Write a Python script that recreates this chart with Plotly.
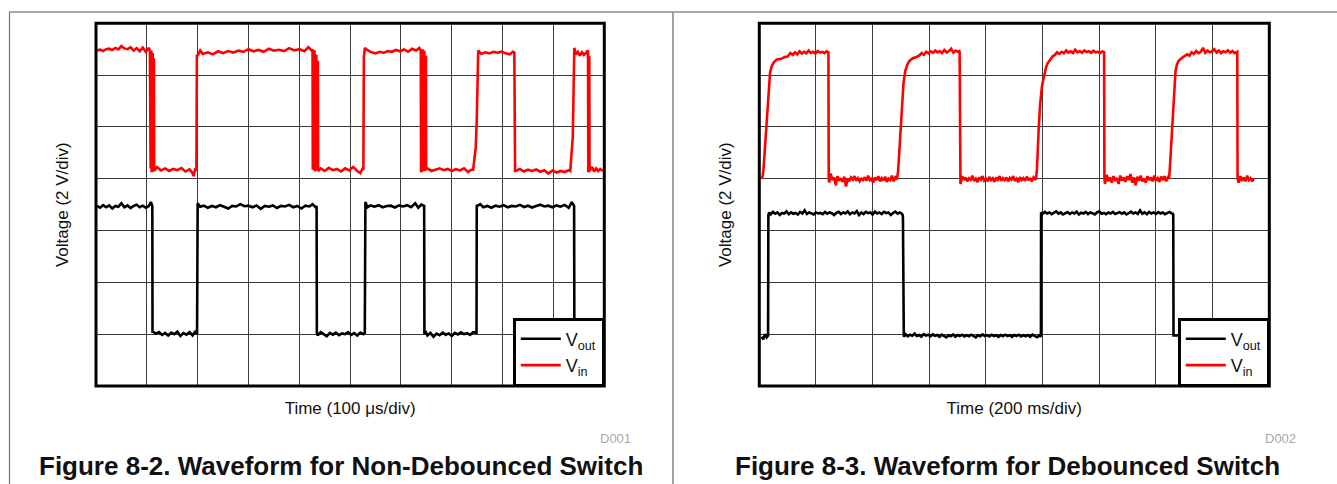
import plotly.graph_objects as go

# ---------------- Figure 8-2 (non-debounced), time in us, voltage in V (2 V/div) -------------
t_in_a = [2, 8, 14, 20, 26, 32, 38, 44, 50, 56, 62, 68, 74, 80, 86, 92, 98, 104,
          106, 106.5, 107.5, 108, 109, 109.5, 110.5, 111, 111.5, 112, 113, 113.5, 114, 114.5, 116,
          120, 128, 136, 144, 152, 160, 168, 176, 184, 190, 192, 195, 197.5, 198.5,
          200, 205, 210, 220, 230, 240, 250, 260, 270, 280, 290, 300, 310, 320, 330, 340, 350, 360,
          370, 380, 390, 400, 410, 418, 424,
          426, 426.5, 428, 428.5, 430, 430.5, 432, 432.5, 433.5, 434, 435.5, 436, 436.5, 437, 439,
          442, 450, 458, 466, 474, 482, 490, 498, 506, 514, 520, 524, 526, 527,
          529, 535, 542, 550, 558, 566, 574, 582, 590, 598, 606, 614, 622, 630, 636,
          639, 639.5, 641, 641.5, 642.5, 643, 644.5, 645, 646, 646.5, 648, 648.5, 649, 649.5,
          652, 660, 668, 676, 684, 692, 700, 708, 716, 724, 732, 738, 742, 747, 749, 750.5,
          752, 758, 766, 774, 782, 790, 798, 806, 814, 820, 823, 824.5,
          826, 834, 842, 850, 858, 866, 874, 882, 890, 898, 906, 914, 922, 930, 933, 938, 940,
          941, 944, 948, 952, 956, 960, 964, 967,
          968, 968.5, 969.5, 970, 970.5, 971, 973,
          976, 980, 984, 988, 992, 997]
v_in_a = [12.95, 12.98, 12.93, 13.0, 13.02, 12.97, 13.05, 12.99, 13.12, 13.03, 13.0, 13.08, 12.95, 13.04, 12.92, 13.06, 12.9, 13.05,
          12.95, 8.4, 8.4, 12.9, 12.9, 8.3, 8.3, 12.8, 12.8, 8.4, 8.4, 12.6, 12.6, 8.3, 8.35,
          8.45, 8.32, 8.4, 8.3, 8.38, 8.33, 8.41, 8.28, 8.36, 8.22, 8.1, 8.4, 8.3, 12.8,
          12.75, 12.95, 12.82, 12.88, 12.8, 12.92, 12.85, 12.93, 12.87, 12.95, 12.9, 13.0, 12.92, 12.97, 12.9, 13.02, 12.94, 12.98,
          12.93, 13.04, 12.95, 13.0, 12.92, 13.08, 12.95,
          13.0, 8.4, 8.4, 12.9, 12.95, 8.3, 8.35, 12.8, 12.8, 8.4, 8.4, 12.5, 12.5, 8.3, 8.35,
          8.4, 8.3, 8.42, 8.33, 8.38, 8.28, 8.4, 8.32, 8.45, 8.3, 8.22, 8.38, 8.35, 12.7,
          13.05, 12.95, 12.88, 12.84, 12.9, 12.86, 12.93, 12.9, 12.97, 12.92, 12.99, 12.9, 13.02, 12.95, 13.05,
          12.95, 8.3, 8.3, 13.0, 13.0, 8.35, 8.35, 12.9, 12.9, 8.3, 8.4, 12.7, 12.7, 8.35,
          8.4, 8.3, 8.36, 8.4, 8.33, 8.38, 8.3, 8.37, 8.32, 8.4, 8.26, 8.35, 8.35, 9.2, 10.2, 12.85,
          12.95, 12.82, 12.88, 12.84, 12.9, 12.86, 12.91, 12.84, 12.8, 12.9, 12.88, 8.3,
          8.3, 8.38, 8.28, 8.35, 8.3, 8.36, 8.27, 8.33, 8.2, 8.32, 8.24, 8.3, 8.26, 8.33, 8.3, 9.6, 12.95,
          13.05, 12.8, 12.9, 12.75, 12.88, 12.78, 12.85, 12.95,
          12.9, 8.3, 8.3, 12.7, 12.7, 8.3, 8.35,
          8.45, 8.28, 8.4, 8.3, 8.38, 8.3]

t_out_a = [2, 8, 14, 20, 26, 32, 38, 44, 50, 56, 62, 68, 74, 80, 86, 92, 98, 104, 108, 110.8, 111.2,
           112, 118, 124, 130, 136, 142, 148, 154, 160, 166, 172, 178, 184, 190, 196, 198.8, 199.3,
           200, 205, 212, 220, 228, 236, 244, 252, 260, 268, 276, 284, 292, 300, 308, 316, 324, 332,
           340, 348, 356, 364, 372, 380, 388, 396, 404, 412, 420, 426, 432, 434, 434.5,
           436, 442, 448, 454, 460, 466, 472, 478, 484, 490, 496, 502, 508, 514, 520, 526, 528.8, 529.3,
           530, 534, 540, 548, 556, 564, 572, 580, 588, 596, 604, 612, 620, 628, 634, 640, 645.6, 646.1,
           648, 652, 658, 664, 670, 676, 682, 688, 694, 700, 706, 712, 718, 724, 730, 736, 742, 748.6, 749.1,
           750, 756, 762, 770, 778, 786, 794, 802, 810, 818, 826, 834, 842, 850, 858, 866, 874, 882,
           890, 898, 906, 914, 922, 930, 936, 940.6, 941.1,
           950, 960, 975, 990, 998]
v_out_a = [6.95, 6.88, 6.98, 6.9, 6.97, 6.85, 6.95, 6.92, 7.05, 6.9, 6.97, 6.87, 6.95, 7.0, 6.9, 6.96, 6.88, 6.95, 7.1, 6.95, 2.05,
           2.1, 2.02, 2.08, 1.97, 2.05, 1.95, 2.06, 2.0, 2.1, 1.93, 2.04, 1.98, 2.08, 1.95, 2.12, 2.0, 6.95,
           7.05, 6.92, 6.96, 6.88, 6.95, 6.9, 6.98, 6.92, 6.85, 6.95, 6.93, 7.02, 6.94, 6.96, 6.9, 6.97, 6.84, 6.95,
           6.92, 6.97, 6.87, 6.95, 6.93, 6.99, 6.9, 6.95, 6.85, 6.96, 6.93, 7.02, 6.9, 6.95, 2.05,
           1.95, 2.08, 2.0, 1.92, 2.05, 1.98, 2.06, 1.96, 2.03, 2.0, 2.08, 1.97, 2.04, 1.95, 2.06, 2.0, 2.05, 7.0,
           7.1, 6.9, 6.97, 6.92, 6.98, 6.9, 6.95, 6.96, 6.89, 6.97, 6.93, 6.98, 6.9, 7.05, 6.88, 7.0, 6.95, 2.0,
           2.12, 1.95, 2.05, 1.9, 2.02, 1.96, 2.06, 1.98, 2.03, 1.93, 2.05, 1.99, 2.07, 2.0, 2.04, 1.97, 2.08, 2.05, 7.0,
           6.95, 7.02, 6.9, 6.95, 6.88, 6.96, 6.92, 6.98, 6.9, 6.95, 6.93, 6.99, 6.91, 6.96, 6.89, 6.95, 7.0, 6.93,
           6.96, 6.9, 6.97, 6.92, 6.99, 6.88, 7.1, 6.95, 2.0,
           2.0, 2.05, 1.97, 2.03, 2.0]

# ---------------- Figure 8-3 (debounced), time in ms -------------
t_in_b = [6, 12, 15, 25, 33, 38, 44, 52, 62, 75, 90, 100, 110, 118, 126, 134, 142, 150, 158, 166, 174, 182,
          190, 198, 206, 214, 222, 230, 238, 243, 244, 245,
          247, 252, 258, 264, 270, 276, 282, 288, 294, 300, 306, 312, 318, 324, 330, 336, 342, 348, 354, 360,
          366, 372, 378, 384, 390, 396, 402, 408, 414, 420, 426, 432, 438, 444, 450, 456, 462, 468, 474, 480, 486,
          490, 500, 509, 515, 522, 530, 542, 555, 565, 573, 581, 589, 597, 605, 613, 621, 629, 637, 645, 653,
          661, 669, 677, 685, 693, 701, 706, 707, 708,
          710, 716, 722, 728, 734, 740, 746, 752, 758, 764, 770, 776, 782, 788, 794, 800, 806, 812, 818, 824,
          830, 836, 842, 848, 854, 860, 866, 872, 878, 884, 890, 896, 902, 908, 914, 920, 926, 932, 938, 944,
          950, 956, 962, 968, 974,
          977, 980, 986, 991, 998, 1006, 1012, 1018, 1026, 1035, 1043, 1051, 1059, 1067, 1075, 1083, 1091,
          1099, 1107, 1115, 1123, 1131, 1139, 1147, 1155, 1163, 1171, 1179, 1187, 1195, 1203, 1211, 1216, 1217, 1218,
          1220, 1226, 1232, 1238, 1244, 1250, 1256, 1262, 1268, 1274, 1280, 1286, 1292, 1298, 1304, 1310, 1316,
          1322, 1328, 1334, 1340, 1346, 1352, 1358, 1364, 1370, 1376, 1382, 1388, 1394, 1400, 1406, 1412, 1418,
          1424, 1430, 1436, 1442,
          1446, 1449, 1455, 1462, 1469, 1474, 1480, 1490, 1500, 1510, 1518, 1526, 1534, 1542, 1550, 1558, 1566,
          1574, 1582, 1590, 1598, 1606, 1614, 1622, 1630, 1638, 1646, 1654, 1662, 1670, 1678, 1686, 1687, 1688,
          1692, 1698, 1704, 1710, 1716, 1722, 1728, 1734, 1740, 1745]
v_in_b = [8.0, 8.1, 8.4, 10.2, 11.5, 12.1, 12.35, 12.5, 12.6, 12.62, 12.7, 12.72, 12.85, 12.78, 12.88, 12.8, 12.92, 12.83, 12.9, 12.84, 12.95, 12.86,
          12.9, 12.83, 12.93, 12.87, 12.9, 12.85, 12.92, 12.88, 12.88, 8.0,
          7.85, 8.2, 7.95, 8.05, 7.75, 8.1, 7.92, 8.02, 7.88, 8.08, 7.7, 8.0, 7.9, 8.05, 7.97, 8.1, 7.93, 8.02, 7.9, 8.0,
          7.95, 8.06, 7.92, 8.12, 7.95, 8.0, 7.85, 8.05, 7.95, 8.1, 7.9, 8.02, 7.93, 8.08, 7.88, 8.0, 7.95, 8.12, 7.9, 8.05, 7.98,
          8.3, 10.0, 11.7, 12.15, 12.4, 12.55, 12.65, 12.7, 12.76, 12.85, 12.78, 12.9, 12.84, 12.92, 12.86, 12.95, 12.88, 12.93, 12.85, 12.97,
          12.88, 12.92, 13.02, 12.87, 12.95, 12.9, 12.93, 12.9, 8.0,
          7.8, 8.1, 7.95, 8.05, 7.9, 8.02, 7.96, 8.12, 7.92, 8.0, 7.87, 8.05, 7.97, 8.1, 7.93, 8.0, 7.9, 8.07, 7.95, 8.02,
          7.88, 8.05, 7.96, 8.1, 7.92, 8.02, 7.95, 8.05, 7.9, 8.03, 7.97, 8.1, 7.92, 8.0, 7.87, 8.06, 7.95, 8.02, 7.92, 8.08,
          7.96, 8.0, 7.9, 8.05, 7.98,
          8.0, 8.4, 9.9, 10.85, 11.6, 12.0, 12.3, 12.46, 12.6, 12.72, 12.78, 12.88, 12.82, 12.9, 12.84, 12.95, 12.87,
          12.92, 12.85, 12.98, 12.88, 12.93, 12.86, 12.95, 12.89, 12.92, 12.86, 12.94, 12.88, 12.9, 12.85, 12.92, 12.88, 12.88, 8.0,
          7.8, 8.15, 7.9, 8.05, 7.85, 8.1, 7.95, 8.02, 7.8, 8.12, 7.93, 8.05, 7.88, 8.1, 7.95, 8.18, 7.85,
          8.05, 7.75, 8.08, 7.92, 8.12, 7.9, 8.0, 7.85, 8.1, 7.95, 8.05, 7.9, 8.12, 7.93, 8.02, 7.88, 8.08,
          7.95, 8.1, 7.9, 8.05,
          8.0, 8.4, 9.6, 11.0, 12.15, 12.4, 12.55, 12.65, 12.72, 12.8, 12.75, 12.88, 12.82, 12.93, 12.85, 12.9, 13.05,
          12.86, 12.95, 12.88, 12.92, 13.0, 12.87, 12.95, 12.85, 12.92, 12.88, 12.96, 12.86, 12.93, 12.85, 12.9, 12.9, 8.0,
          7.85, 8.1, 7.92, 8.05, 7.9, 8.12, 7.95, 8.02, 7.9, 8.0]

t_out_b = [8, 14, 20, 26, 31, 32, 35, 40, 48, 56, 64, 72, 80, 88, 96, 104, 112, 120, 128, 136, 144, 152, 160,
           168, 176, 184, 192, 200, 208, 216, 224, 232, 240, 248, 256, 264, 272, 280, 288, 296, 304, 312, 320,
           328, 336, 344, 352, 360, 368, 376, 384, 392, 400, 408, 416, 424, 432, 440, 448, 456, 464, 472, 480,
           488, 496, 502, 506, 507, 508, 510,
           516, 524, 532, 540, 548, 556, 564, 572, 580, 588, 596, 604, 612, 620, 628, 636, 644, 652, 660, 668,
           676, 684, 692, 700, 708, 716, 724, 732, 740, 748, 756, 764, 772, 780, 788, 796, 804, 812, 820, 828,
           836, 844, 852, 860, 868, 876, 884, 892, 900, 908, 916, 924, 932, 940, 948, 956, 964, 972, 980, 988,
           993, 994, 994.5,
           1000, 1008, 1016, 1024, 1032, 1040, 1048, 1056, 1064, 1072, 1080, 1088, 1096, 1104, 1112, 1120, 1128,
           1136, 1144, 1152, 1160, 1168, 1176, 1184, 1192, 1200, 1208, 1216, 1224, 1232, 1240, 1248, 1256, 1264,
           1272, 1280, 1288, 1296, 1304, 1312, 1320, 1328, 1336, 1344, 1352, 1360, 1368, 1376, 1384, 1392, 1400,
           1408, 1416, 1424, 1432, 1440, 1448, 1456, 1460, 1461, 1462,
           1500, 1560, 1620, 1680, 1745]
v_out_b = [1.9, 1.8, 2.0, 1.88, 1.95, 6.6, 6.7, 6.62, 6.72, 6.65, 6.7, 6.6, 6.68, 6.66, 6.74, 6.63, 6.7, 6.65, 6.68, 6.62, 6.72, 6.66, 6.78,
           6.64, 6.7, 6.67, 6.62, 6.7, 6.66, 6.68, 6.63, 6.72, 6.65, 6.7, 6.67, 6.6, 6.68, 6.72, 6.64, 6.7, 6.66, 6.74, 6.63,
           6.7, 6.66, 6.75, 6.6, 6.7, 6.64, 6.72, 6.67, 6.7, 6.62, 6.73, 6.66, 6.7, 6.64, 6.72, 6.67, 6.7, 6.6, 6.68, 6.73,
           6.65, 6.7, 6.66, 6.6, 6.5, 2.1, 1.9,
           2.0, 1.92, 1.98, 1.94, 2.02, 1.93, 1.97, 1.9, 2.0, 1.95, 1.98, 1.92, 1.99, 1.94, 1.97, 1.9, 1.98, 1.93, 1.88, 1.96,
           1.92, 1.99, 1.9, 1.97, 1.93, 1.98, 1.91, 1.96, 1.92, 1.98, 1.93, 1.88, 1.96, 1.92, 1.99, 1.93, 1.96, 1.91, 1.98, 1.93,
           1.96, 1.9, 1.97, 1.92, 1.98, 1.93, 1.96, 1.9, 1.97, 1.93, 1.98, 1.91, 1.96, 1.92, 1.97, 1.9, 1.98, 1.93, 1.88, 1.95,
           1.9, 1.9, 6.7,
           6.65, 6.72, 6.66, 6.7, 6.63, 6.69, 6.74, 6.65, 6.7, 6.62, 6.68, 6.71, 6.64, 6.7, 6.66, 6.73, 6.62,
           6.69, 6.66, 6.72, 6.64, 6.7, 6.67, 6.62, 6.7, 6.74, 6.65, 6.68, 6.63, 6.7, 6.66, 6.72, 6.64, 6.69,
           6.71, 6.65, 6.7, 6.62, 6.68, 6.73, 6.66, 6.7, 6.64, 6.78, 6.65, 6.7, 6.63, 6.72, 6.66, 6.7, 6.64,
           6.71, 6.66, 6.7, 6.63, 6.69, 6.72, 6.66, 6.65, 6.6, 1.95,
           1.95, 1.95, 1.95, 1.95, 1.95]

x_title_a = "Time (100 μs/div)"
x_title_b = "Time (200 ms/div)"
y_title = "Voltage (2 V/div)"
caption_a = "Figure 8-2. Waveform for Non-Debounced Switch"
caption_b = "Figure 8-3. Waveform for Debounced Switch"

W, H = 1337, 484
FONT = "Arial, 'Liberation Sans', sans-serif"
BLACK, RED = "#000000", "#ff0000"

dom_xa = [96 / W, 604.3 / W]
dom_xb = [759.3 / W, 1269.3 / W]
dom_y = [1 - 386 / H, 1 - 23.3 / H]

fig = go.Figure()
fig.add_trace(go.Scatter(x=t_out_a, y=v_out_a, mode="lines", name="V<sub>out</sub>",
                         line=dict(color=BLACK, width=2.6), xaxis="x", yaxis="y", legend="legend"))
fig.add_trace(go.Scatter(x=t_in_a, y=v_in_a, mode="lines", name="V<sub>in</sub>",
                         line=dict(color=RED, width=2.6), xaxis="x", yaxis="y", legend="legend"))
fig.add_trace(go.Scatter(x=t_out_b, y=v_out_b, mode="lines", name="V<sub>out</sub>",
                         line=dict(color=BLACK, width=2.6), xaxis="x2", yaxis="y2", legend="legend2"))
fig.add_trace(go.Scatter(x=t_in_b, y=v_in_b, mode="lines", name="V<sub>in</sub>",
                         line=dict(color=RED, width=2.6), xaxis="x2", yaxis="y2", legend="legend2"))

grid = dict(showgrid=True, gridcolor="#3a3a3a", gridwidth=1, zeroline=False,
            showticklabels=False, ticks="", showline=False, fixedrange=True)
tfont = dict(family=FONT, size=17, color="#111111")

legend_style = dict(y=1 - 386 / H, yanchor="bottom", xanchor="right",
                    bgcolor="white", bordercolor="black", borderwidth=2.5,
                    font=dict(family=FONT, size=18, color="#111111"), itemwidth=40,
                    tracegroupgap=0)

fig.update_layout(
    width=W, height=H, margin=dict(l=0, r=0, t=0, b=0),
    paper_bgcolor="white", plot_bgcolor="white",
    font=dict(family=FONT, color="#111111"),
    xaxis=dict(domain=dom_xa, range=[0, 1000], dtick=100, anchor="y",
               title=dict(text=x_title_a, font=tfont, standoff=16), **grid),
    yaxis=dict(domain=dom_y, range=[0, 14], dtick=2, anchor="x",
               title=dict(text=y_title, font=tfont, standoff=22), **grid),
    xaxis2=dict(domain=dom_xb, range=[0, 1800], dtick=200, anchor="y2",
                title=dict(text=x_title_b, font=tfont, standoff=16), **grid),
    yaxis2=dict(domain=dom_y, range=[0, 14], dtick=2, anchor="x2",
                title=dict(text=y_title, font=tfont, standoff=22), **grid),
    legend=dict(x=604.3 / W, **legend_style),
    legend2=dict(x=1269.3 / W, **legend_style),
    showlegend=True,
)

shapes = []
for xr, yr in (("x domain", "y domain"), ("x2 domain", "y2 domain")):
    shapes.append(dict(type="rect", xref=xr, yref=yr, x0=0, x1=1, y0=0, y1=1,
                       line=dict(color="black", width=3), layer="above"))
# page frame
shapes.append(dict(type="line", xref="paper", yref="paper", x0=9 / W, x1=1, y0=1 - 12 / H, y1=1 - 12 / H,
                   line=dict(color="#555555", width=1.2)))
shapes.append(dict(type="line", xref="paper", yref="paper", x0=9.5 / W, x1=9.5 / W, y0=0, y1=1 - 12 / H,
                   line=dict(color="#777777", width=1.2)))
shapes.append(dict(type="line", xref="paper", yref="paper", x0=673 / W, x1=673 / W, y0=0, y1=1 - 12 / H,
                   line=dict(color="#999999", width=1.8)))
fig.update_layout(shapes=shapes)

ann = [
    dict(text="D001", x=633 / W, y=1 - 438 / H, xanchor="right", yanchor="middle",
         font=dict(family=FONT, size=13, color="#a8a8a8")),
    dict(text="D002", x=1298 / W, y=1 - 438 / H, xanchor="right", yanchor="middle",
         font=dict(family=FONT, size=13, color="#a8a8a8")),
    dict(text=caption_a, x=341 / W, y=1 - 466 / H, xanchor="center", yanchor="middle",
         font=dict(family=FONT, size=26, color="#111111", weight="bold")),
    dict(text=caption_b, x=1007 / W, y=1 - 466 / H, xanchor="center", yanchor="middle",
         font=dict(family=FONT, size=26, color="#111111", weight="bold")),
]
for a in ann:
    a.update(xref="paper", yref="paper", showarrow=False)
fig.update_layout(annotations=ann)

fig.write_html("out.html", config={"displayModeBar": False},
               post_script="document.body.style.margin='0';document.body.style.overflow='hidden';")
